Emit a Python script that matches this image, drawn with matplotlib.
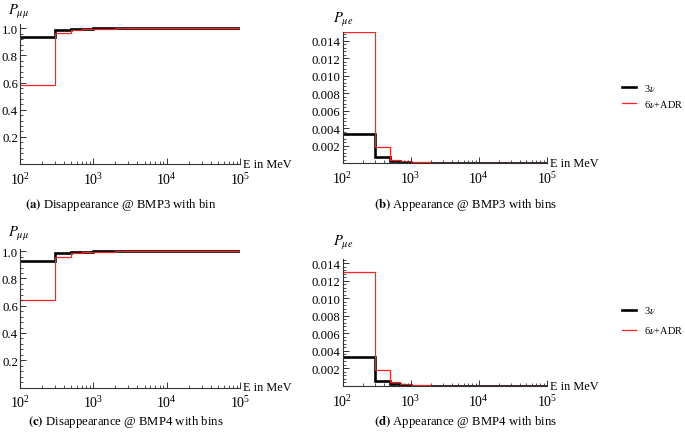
import matplotlib
matplotlib.use("Agg")
import matplotlib.pyplot as plt
from matplotlib.ticker import FixedLocator, LogLocator, LogFormatterMathtext, NullFormatter
from matplotlib.lines import Line2D

plt.rcParams['font.family'] = ['Liberation Serif', 'DejaVu Serif']
plt.rcParams['mathtext.fontset'] = 'stix'

# ---------------- data ----------------
edges = [100, 300, 500, 700, 1000, 2000, 5000, 10000, 100000]

black_a = [0.937, 0.985, 0.993, 0.997, 0.999, 1.0, 1.0, 1.0]
red_a = [0.583, 0.962, 0.988, 0.994, 0.997, 0.999, 1.0, 1.0]

black_b = [0.0033, 0.0007, 0.00025, 0.0001, 0.00005, 0.00002, 0.00001, 0.0]
red_b = [0.0150, 0.0018, 0.0004, 0.0002, 0.0001, 0.00004, 0.00001, 0.0]

black_c = [0.931, 0.987, 0.994, 0.997, 0.999, 1.0, 1.0, 1.0]
red_c = [0.642, 0.956, 0.985, 0.993, 0.997, 0.999, 1.0, 1.0]

black_d = [0.0033, 0.0006, 0.00025, 0.0001, 0.00005, 0.00002, 0.00001, 0.0]
red_d = [0.0130, 0.0018, 0.0004, 0.0002, 0.0001, 0.00004, 0.00001, 0.0]

dis_ticks = [0.2, 0.4, 0.6, 0.8, 1.0]
dis_labels = ['0.2', '0.4', '0.6', '0.8', '1.0']
app_ticks = [0.002, 0.004, 0.006, 0.008, 0.010, 0.012, 0.014]
app_labels = ['0.002', '0.004', '0.006', '0.008', '0.010', '0.012', '0.014']

captions = [
    (r'$\mathbf{(a)}$', ' Disappearance @ BMP3 with bin'),
    (r'$\mathbf{(b)}$', ' Appearance @ BMP3 with bins'),
    (r'$\mathbf{(c)}$', ' Disappearance @ BMP4 with bins'),
    (r'$\mathbf{(d)}$', ' Appearance @ BMP4 with bins'),
]
legend_labels = [r'3$\nu$', r'6$\nu$+ADR']

# ---------------- layout ----------------
W, H = 685, 435
fig = plt.figure(figsize=(W / 100, H / 100), dpi=100)


def box(left, top, right, bottom):
    return [left / W, 1 - bottom / H, (right - left) / W, (bottom - top) / H]


def fx(x):
    return x / W


def fy(y):
    return 1 - y / H


def style(ax, ticks, labels, ymax):
    ax.set_xscale('log')
    ax.set_xlim(100, 1e5)
    ax.set_ylim(0, ymax)
    for s in ['top', 'right']:
        ax.spines[s].set_visible(False)
    for s in ['left', 'bottom']:
        ax.spines[s].set_linewidth(0.8)
        ax.spines[s].set_color('#333333')
    ax.xaxis.set_major_locator(LogLocator(base=10, numticks=10))
    ax.xaxis.set_minor_locator(LogLocator(base=10, subs=range(2, 10), numticks=10))
    ax.xaxis.set_major_formatter(LogFormatterMathtext())
    ax.xaxis.set_minor_formatter(NullFormatter())
    ax.yaxis.set_major_locator(FixedLocator(ticks))
    ax.set_yticklabels(labels)
    step = ticks[1] - ticks[0]
    minors = []
    k = 1
    while k * step / 5 <= ymax:
        if k % 5:
            minors.append(k * step / 5)
        k += 1
    ax.yaxis.set_minor_locator(FixedLocator(minors))
    ax.tick_params(which='both', direction='in', color='#333333', labelsize=9.2)
    ax.tick_params(which='major', length=4, width=0.7)
    ax.tick_params(which='minor', length=2, width=0.6)
    ax.tick_params(axis='x', pad=5, labelsize=10)
    ax.tick_params(axis='y', pad=1.5)
    ax.patch.set_alpha(0)
    ax.text(1.015, 0, 'E in MeV', transform=ax.transAxes, ha='left', va='center', fontsize=8.8)


panels = [
    (box(20, 25, 240, 165), black_a, red_a, dis_ticks, dis_labels, 1.032, r'$P_{\mu\mu}$', (19, 12)),
    (box(342.5, 33, 547, 164), black_b, red_b, app_ticks, app_labels, 0.015, r'$P_{\mu e}$', (343, 20)),
    (box(20, 249.5, 240, 388.5), black_c, red_c, dis_ticks, dis_labels, 1.02, r'$P_{\mu\mu}$', (19, 234)),
    (box(342.5, 260, 547, 387), black_d, red_d, app_ticks, app_labels, 0.0145, r'$P_{\mu e}$', (343, 243)),
]
cap_pos = [(121, 205), (465, 205), (126, 422), (465, 422)]
legend_pos = [(88, 104), (311, 331)]

for i, (rect, bl, rd, ticks, labels, ymax, ylab, lpos) in enumerate(panels):
    ax = fig.add_axes(rect)
    ax.stairs(bl, edges, color='black', linewidth=1.9, baseline=None)
    ax.stairs(rd, edges, color='#ff2020', linewidth=0.9, baseline=None)
    style(ax, ticks, labels, ymax)
    fig.text(fx(lpos[0]), fy(lpos[1]), ylab, ha='center', va='center', fontsize=10.5)
    b, t = captions[i]
    fig.text(fx(cap_pos[i][0]), fy(cap_pos[i][1]), b + t, ha='center', va='center', fontsize=9.2)

for (y1, y2) in legend_pos:
    fig.add_artist(Line2D([fx(622), fx(636)], [fy(y1), fy(y1)], color='black', linewidth=1.9))
    fig.add_artist(Line2D([fx(622), fx(636)], [fy(y2), fy(y2)], color='#ff2020', linewidth=0.9))
    fig.text(fx(644), fy(y1), legend_labels[0], ha='left', va='center', fontsize=7.4)
    fig.text(fx(644), fy(y2), legend_labels[1], ha='left', va='center', fontsize=7.4)

fig.savefig('out.png', dpi=100)
